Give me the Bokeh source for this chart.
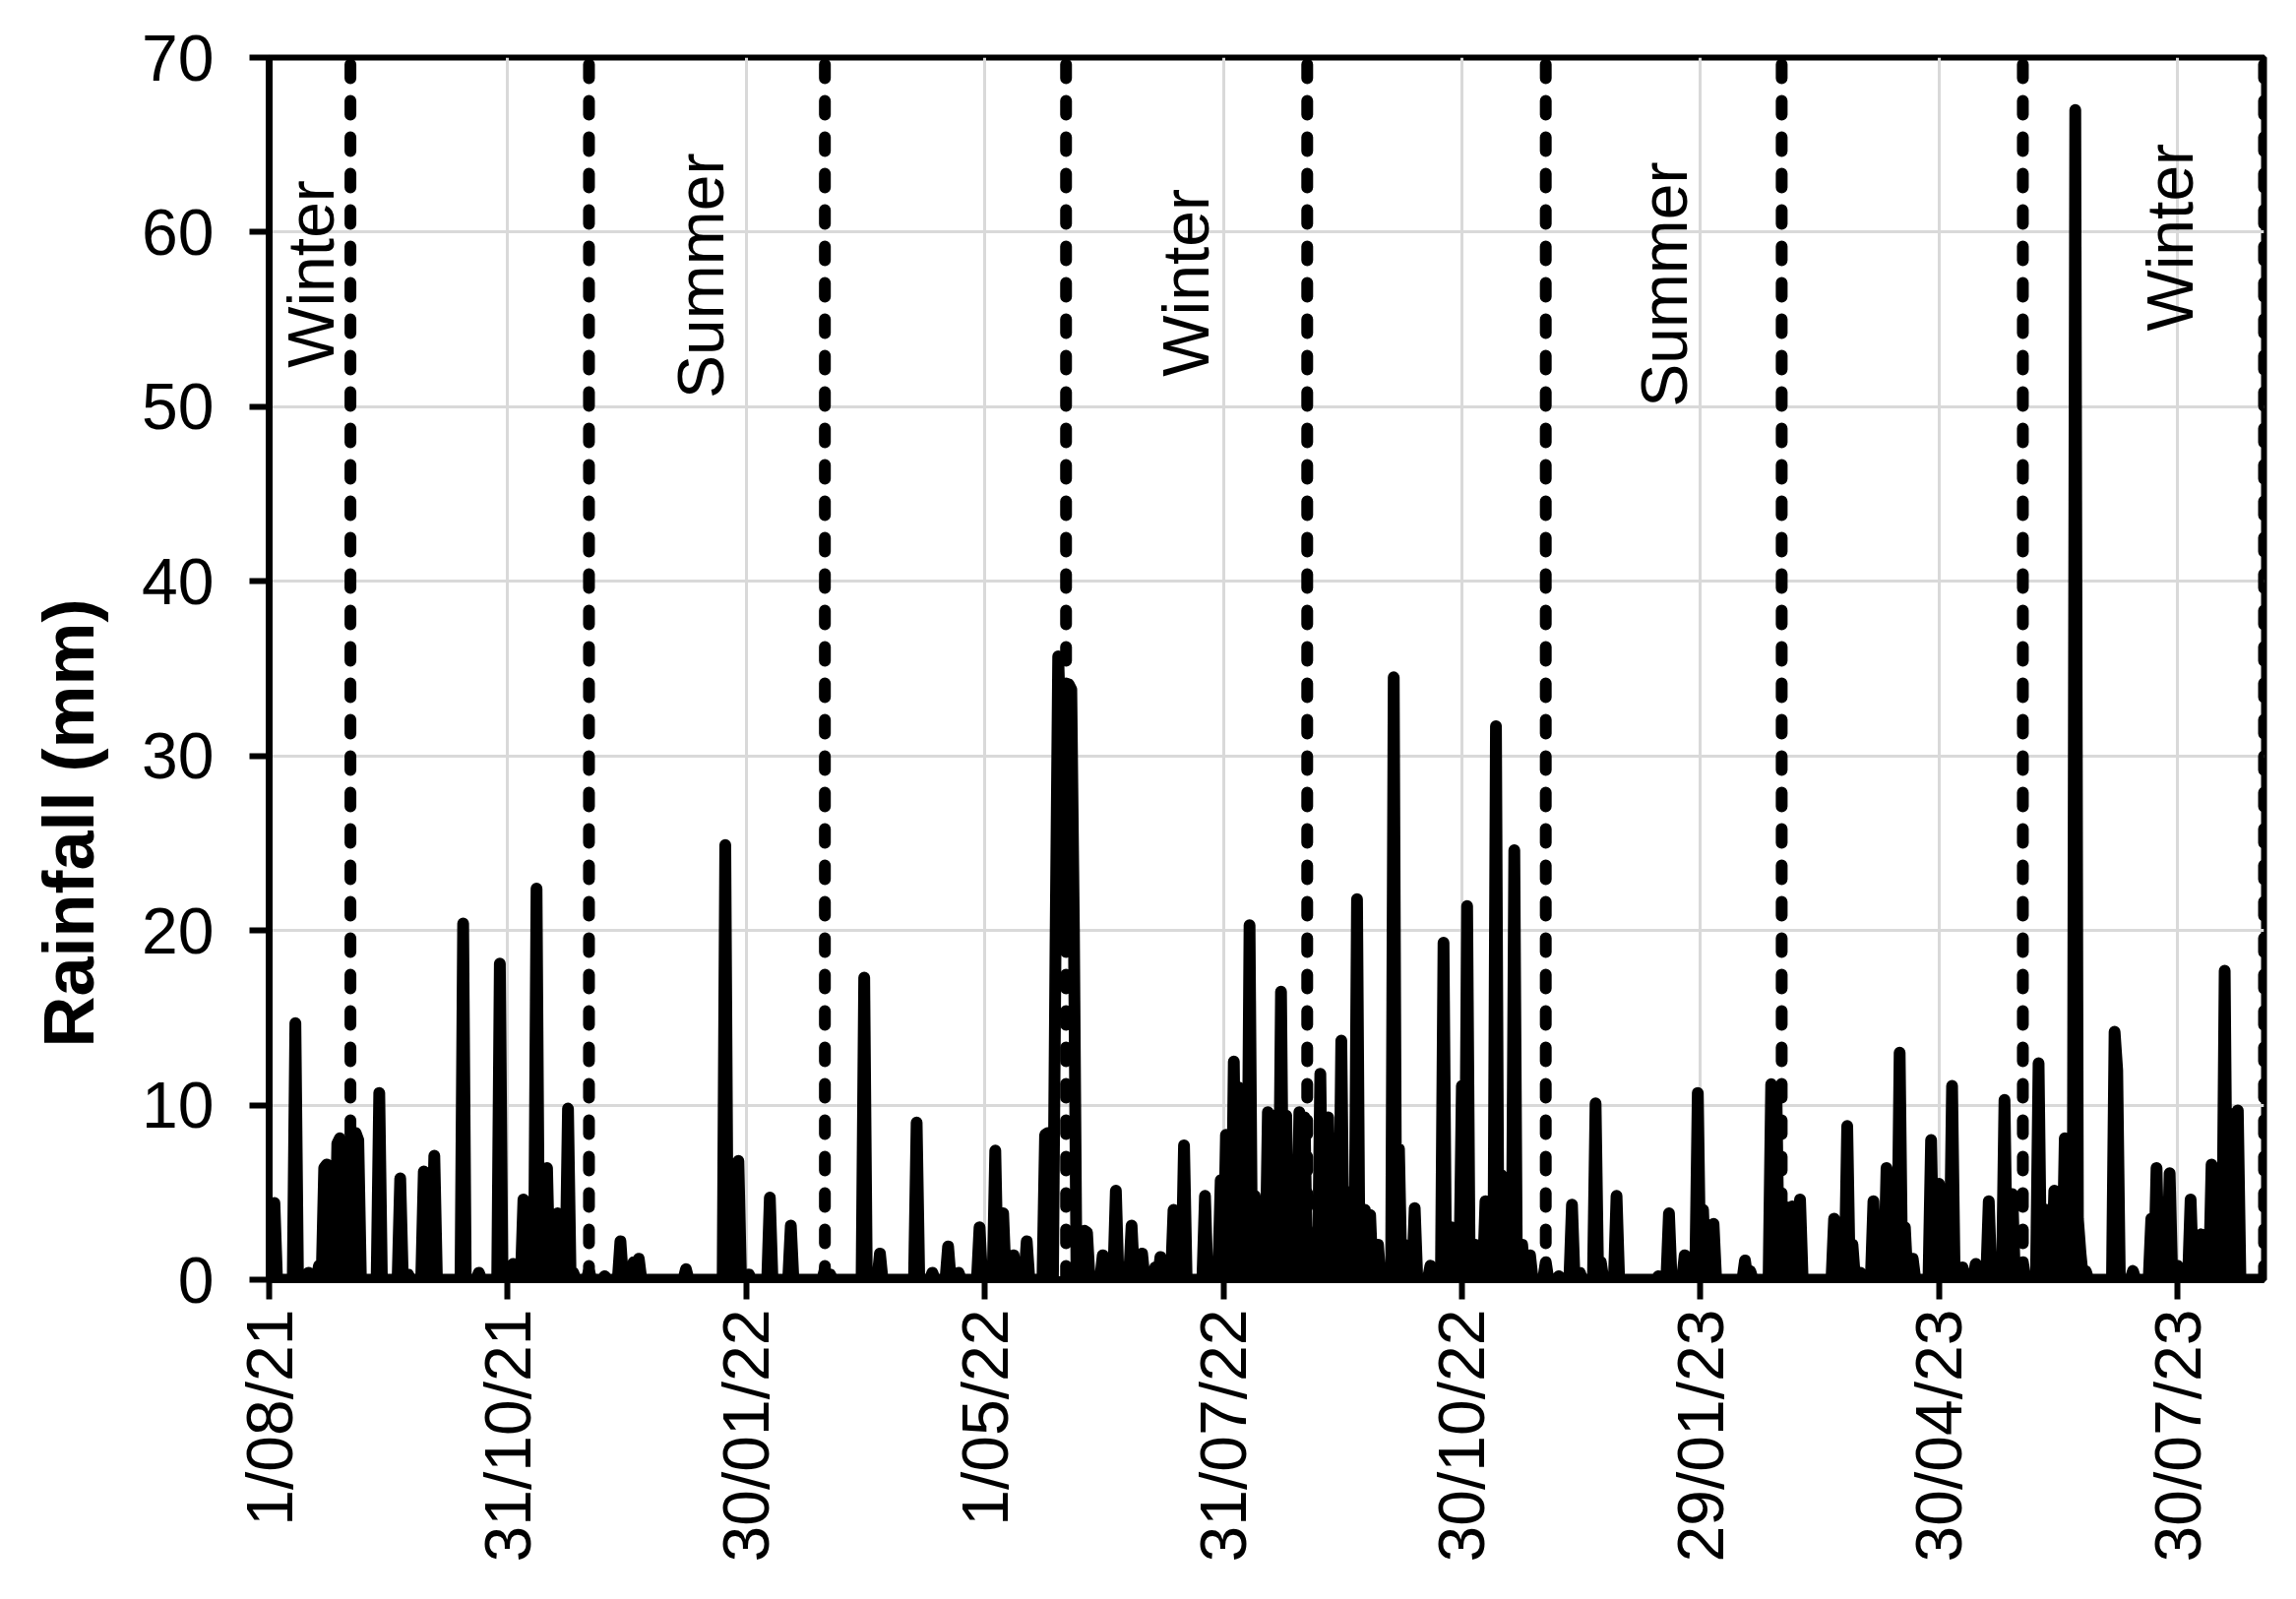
import numpy as np
import pandas as pd
from bokeh.plotting import figure
from bokeh.models import FixedTicker, Range1d, ColumnDataSource, Title
from bokeh.embed import file_html
from bokeh.resources import INLINE
from bokeh.core.properties import value

# ---------------- data ----------------
start_date = "2021-08-01"
end_date = "2023-09-01"

tick_labels = ["1/08/21", "31/10/21", "30/01/22", "1/05/22", "31/07/22",
               "30/10/22", "29/01/23", "30/04/23", "30/07/23"]

season_boundaries = ["2021-09-01", "2021-12-01", "2022-03-01", "2022-06-01",
                     "2022-09-01", "2022-12-01", "2023-03-01", "2023-06-01",
                     "2023-09-01"]

season_names = ["Winter", "Summer", "Winter", "Summer", "Winter"]
season_label_day = [16.0, 164.6, 349.7, 532.3, 725.0]   # days after start
season_label_mm = [57.6, 57.5, 57.1, 57.0, 59.7]

# rainy days: day offset from 1 Aug 2021 and rainfall (mm); all other days 0
rain_day = [2, 10, 15, 19, 21, 22, 26, 27, 28, 30, 33, 34, 42, 50, 53, 59, 61, 63,
            74, 80, 88, 93, 97, 102, 106, 110, 114, 116, 122, 128, 134, 139, 141,
            159, 174, 179, 183, 191, 199, 212, 214, 227, 233, 247, 253, 259, 263,
            271, 277, 280, 284, 289, 296, 297, 298, 300, 301, 302, 303, 304, 305,
            306, 307, 311, 312, 318, 323, 329, 333, 338, 340, 345, 349, 357, 363,
            365, 368, 370, 374, 376, 381, 383, 386, 388, 393, 395, 401, 404, 406,
            409, 412, 415, 418, 420, 423, 429, 431, 433, 437, 443, 448, 451, 455,
            457, 460, 464, 468, 470, 472, 475, 478, 481, 487, 492, 497, 500, 506,
            508, 514, 530, 534, 540, 545, 547, 551, 563, 565, 573, 575, 578, 581,
            584, 597, 602, 604, 607, 612, 617, 622, 624, 627, 634, 637, 642, 646,
            651, 656, 662, 665, 669, 675, 678, 681, 685, 689, 690, 691, 693, 704,
            705, 711, 718, 720, 722, 725, 728, 733, 737, 741, 746, 749, 751]
rain_mm = [4.4, 14.7, 0.4, 0.8, 6.4, 6.6, 7.8, 8.1, 7.5, 7.9, 8.4, 8.0, 10.7, 5.8, 0.3, 6.2, 6.0, 7.1,
           20.4, 0.4, 18.1, 0.9, 4.6, 22.4, 6.4, 3.8, 9.8, 0.4, 0.5, 0.2, 2.2, 1.0, 1.2,
           0.6, 24.9, 6.8, 0.3, 4.7, 3.1, 0.6, 0.3, 17.3, 1.5, 9.0, 0.4, 1.9, 0.4,
           3.0, 7.4, 3.8, 1.4, 2.2, 8.3, 8.4, 0.5, 19.3, 35.7, 30.8, 20.0, 22.0, 34.1,
           33.8, 20.0, 2.8, 2.7, 1.4, 5.1, 3.1, 1.5, 0.7, 1.3, 4.0, 7.7, 4.8, 5.7,
           8.3, 12.5, 11.0, 20.3, 4.8, 9.6, 9.4, 16.5, 9.4, 9.6, 9.3, 11.8, 9.3, 1.0,
           13.7, 5.0, 21.8, 4.0, 3.7, 2.0, 34.5, 7.5, 2.0, 4.1, 0.8, 19.3, 3.0, 11.1,
           21.4, 2.0, 4.5, 31.7, 6.0, 3.0, 24.6, 2.0, 1.4, 1.0, 0.2, 4.3, 0.4, 10.1,
           1.0, 4.8, 0.2, 3.8, 1.4, 10.7, 4.0, 3.2, 1.1, 0.5, 11.2, 10.5, 4.2, 4.2,
           4.6, 3.5, 8.8, 2.0, 0.4, 4.5, 6.4, 13.0, 3.0, 1.2, 8.0, 5.5, 11.1, 0.7,
           0.9, 4.5, 10.3, 4.9, 1.0, 12.4, 4.0, 5.1, 8.1, 67.0, 3.5, 1.5, 0.5, 14.2,
           12.0, 0.5, 3.5, 6.4, 2.0, 6.1, 0.8, 4.6, 2.6, 6.6, 17.7, 9.5, 9.7]

# ---------------- derived tables ----------------
t0 = pd.Timestamp(start_date)
n_days = (pd.Timestamp(end_date) - t0).days
daily = np.zeros(n_days + 1)
for d, v in zip(rain_day, rain_mm):
    daily[d] = v
rain_src = ColumnDataSource(dict(day=np.arange(n_days + 1), mm=daily))

tick_days = [(pd.to_datetime(s, format="%d/%m/%y") - t0).days for s in tick_labels]
bound_days = [(pd.Timestamp(s) - t0).days for s in season_boundaries]
bound_src = ColumnDataSource(dict(x=bound_days, y0=[0] * len(bound_days),
                                  y1=[70] * len(bound_days)))
lab_src = ColumnDataSource(dict(x=season_label_day, y=season_label_mm, t=season_names))

FONT = "Liberation Sans"

p = figure(frame_width=2027, frame_height=1242,
           min_border_left=273, min_border_right=25,
           min_border_top=58, min_border_bottom=317,
           x_range=Range1d(0, n_days), y_range=Range1d(0, 70),
           output_backend="svg", toolbar_location=None)
p.background_fill_color = "white"
p.border_fill_color = "white"
p.outline_line_color = "black"
p.outline_line_width = 6

# grid
p.xgrid.ticker = FixedTicker(ticks=tick_days)
p.ygrid.ticker = FixedTicker(ticks=list(range(0, 71, 10)))
for g in (p.xgrid, p.ygrid):
    g.grid_line_color = "#d9d9d9"
    g.grid_line_width = 3

# rainfall line
p.line("day", "mm", source=rain_src, line_color="black", line_width=12,
       line_join="round", line_cap="round")

# season boundaries
p.segment(x0="x", y0="y0", x1="x", y1="y1", source=bound_src, line_color="black",
          line_width=12, line_dash="14 23", line_cap="round")

# season labels
p.text(x="x", y="y", text="t", source=lab_src, angle=np.pi / 2,
       text_align="center", text_baseline="alphabetic",
       text_font=value(FONT), text_font_size="66px", text_color="black")

# axes
p.xaxis.ticker = FixedTicker(ticks=tick_days)
p.xaxis.major_label_overrides = {d: s for d, s in zip(tick_days, tick_labels)}
p.xaxis.major_label_orientation = np.pi / 2
p.xaxis.major_label_standoff = 10
p.yaxis.ticker = FixedTicker(ticks=list(range(0, 71, 10)))
p.yaxis.major_label_standoff = 36
for ax in (p.xaxis, p.yaxis):
    ax.axis_line_color = "black"
    ax.axis_line_width = 7
    ax.major_tick_line_color = "black"
    ax.major_tick_line_width = 6
    ax.major_tick_out = 20
    ax.major_tick_in = 0
    ax.minor_tick_out = 0
    ax.minor_tick_in = 0
    ax.major_label_text_font = FONT
    ax.major_label_text_font_size = "66px"
    ax.major_label_text_color = "black"

# y-axis title, placed below the centre of the axis as in the original
p.add_layout(Title(text="Rainfall (mm)", align="left", offset=236,
                   vertical_align="top", standoff=59,
                   text_font=FONT, text_font_style="bold",
                   text_font_size="72px", text_color="black"), "left")

open("out.html", "w").write(file_html(p, INLINE))
